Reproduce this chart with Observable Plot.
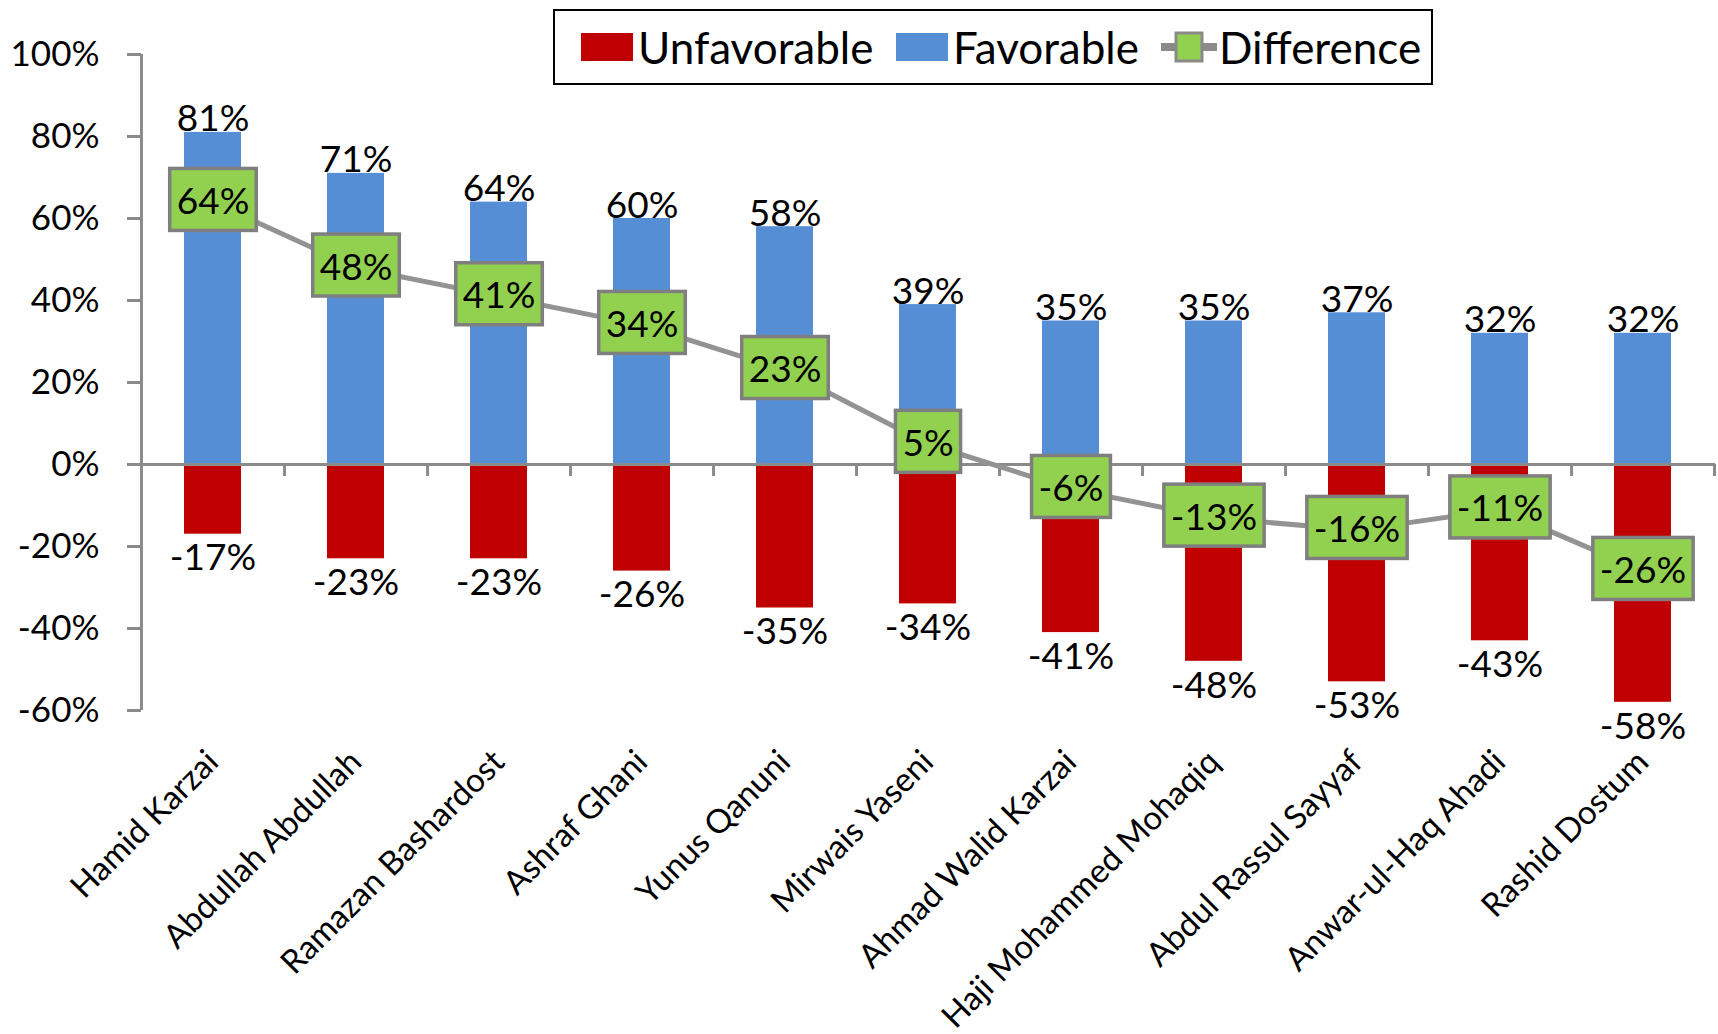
<!DOCTYPE html>
<html>
<head>
<meta charset="utf-8">
<script src="https://cdn.jsdelivr.net/npm/d3@7"></script>
<script src="https://cdn.jsdelivr.net/npm/@observablehq/plot@0.6"></script>
<style>
  html, body { margin: 0; padding: 0; background: #fff; }
  #wrap { position: relative; width: 1718px; height: 1034px; font-family: Lato, "Open Sans", sans-serif; }
  #legend { position: absolute; left: 553px; top: 9px; width: 880px; height: 76px; box-sizing: border-box;
            border: 2.5px solid #000; background: #fff; font-size: 44px; color: #000; }
  #legend .item { position: absolute; top: 0; height: 100%; display: flex; align-items: center; }
  #legend .sw { display: inline-block; width: 52px; height: 28px; }
</style>
</head>
<body>
<div id="wrap"></div>
<script>
// ---- data ----
const categories = ["Hamid Karzai", "Abdullah Abdullah", "Ramazan Bashardost", "Ashraf Ghani", "Yunus Qanuni",
  "Mirwais Yaseni", "Ahmad Walid Karzai", "Haji Mohammed Mohaqiq", "Abdul Rassul Sayyaf", "Anwar-ul-Haq Ahadi", "Rashid Dostum"];
const favorable   = [81, 71, 64, 60, 58, 39, 35, 35, 37, 32, 32];
const unfavorable = [-17, -23, -23, -26, -35, -34, -41, -48, -53, -43, -58];
const difference  = [64, 48, 41, 34, 23, 5, -6, -13, -16, -11, -26];
const yTicks = [-60, -40, -20, 0, 20, 40, 60, 80, 100];
const seriesNames = ["Unfavorable", "Favorable", "Difference"];

const rows = categories.map((name, i) => ({name, fav: favorable[i], unfav: unfavorable[i], diff: difference[i]}));

const W = 1718, H = 1034, mL = 141, mR = 3, mT = 54, mB = 324;
const pInner = 0.6, pOuter = 0.3;
const step = (W - mL - mR) / (categories.length - pInner + 2 * pOuter);
const gray = "#8a8a8a";
const pct = d => d + "%";

const chart = Plot.plot({
  width: W, height: H, marginTop: mT, marginBottom: mB, marginLeft: mL, marginRight: mR,
  style: {fontFamily: "Lato, 'Open Sans', sans-serif", background: "white", color: "black", overflow: "visible"},
  x: {domain: categories, paddingInner: pInner, paddingOuter: pOuter, axis: null, label: null},
  y: {domain: [-60, 100], axis: null, label: null},
  marks: [
    Plot.barY(rows, {x: "name", y: "fav", fill: "#558ed5"}),
    Plot.barY(rows, {x: "name", y: "unfav", fill: "#c00000"}),
    Plot.ruleY([0], {stroke: gray, strokeWidth: 3}),
    Plot.ruleX(categories, {x: d => d, y1: 0, y2: 0, dx: step / 2, insetBottom: -12, stroke: gray, strokeWidth: 3}),
    Plot.ruleX([categories[0]], {x: d => d, y1: -60, y2: 100, dx: -step / 2, stroke: gray, strokeWidth: 3}),
    Plot.axisY({ticks: yTicks, tickFormat: pct, tickSize: 14, tickPadding: 28, fontSize: 35, label: null,
                stroke: gray, strokeWidth: 3, fill: "black", strokeOpacity: 1}),
    Plot.axisX({anchor: "bottom", tickSize: 0, tickPadding: 46, tickRotate: -45, fontSize: 33, fill: "black", label: null}),
    Plot.line(rows, {x: "name", y: "diff", stroke: "#939393", strokeWidth: 5}),
    Plot.text(rows, {x: "name", y: "fav", text: d => pct(d.fav), lineAnchor: "bottom", dy: -1, fontSize: 37, fill: "black"}),
    Plot.text(rows, {x: "name", y: "unfav", text: d => pct(d.unfav), lineAnchor: "top", dy: 10, fontSize: 37, fill: "black"}),
    Plot.text(rows, {x: "name", y: "diff", text: d => pct(d.diff), lineAnchor: "middle", fontSize: 37, fill: "black"})
  ]
});

const wrap = document.getElementById("wrap");
wrap.appendChild(chart);

// green boxes behind the Difference labels, sized from the rendered text
const textGroups = chart.querySelectorAll('g[aria-label="text"]');
const diffGroup = textGroups[textGroups.length - 1];
diffGroup.querySelectorAll("text").forEach(t => {
  const b = t.getBBox();
  const padX = 7, boxH = 62;
  const cy = b.y + b.height / 2;
  const r = document.createElementNS("http://www.w3.org/2000/svg", "rect");
  r.setAttribute("x", b.x - padX);
  r.setAttribute("y", cy - boxH / 2);
  r.setAttribute("width", b.width + 2 * padX);
  r.setAttribute("height", boxH);
  r.setAttribute("fill", "#92d050");
  r.setAttribute("stroke", "#7f7f7f");
  r.setAttribute("stroke-width", 3.5);
  const tr = t.getAttribute("transform");
  if (tr) r.setAttribute("transform", tr);
  t.parentNode.insertBefore(r, t);
});

// legend (overlaid at top, as in the original)
const legend = document.createElement("div");
legend.id = "legend";
legend.innerHTML = `
  <div class="item" style="left:26px"><span class="sw" style="background:#c00000"></span></div>
  <div class="item" style="left:83px">${seriesNames[0]}</div>
  <div class="item" style="left:341px"><span class="sw" style="background:#558ed5"></span></div>
  <div class="item" style="left:398px">${seriesNames[1]}</div>
  <div class="item" style="left:606px"><svg width="56" height="34"><line x1="0" y1="17" x2="56" y2="17" stroke="#8a8a8a" stroke-width="8"/><rect x="15" y="3" width="26" height="28" fill="#92d050" stroke="#8a8a8a" stroke-width="3"/></svg></div>
  <div class="item" style="left:664px">${seriesNames[2]}</div>`;
wrap.appendChild(legend);
</script>
</body>
</html>
